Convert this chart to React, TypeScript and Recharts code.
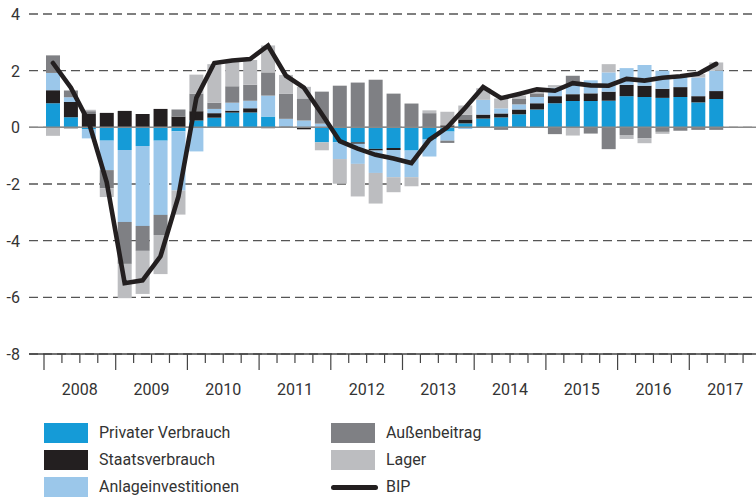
import { ComposedChart, Bar, Line, XAxis, YAxis, CartesianGrid, ReferenceLine } from "recharts";

const YEARS = ["2008", "2009", "2010", "2011", "2012", "2013", "2014", "2015", "2016", "2017"];
const QUARTERS = YEARS.flatMap((y) => [y + "Q1", y + "Q2", y + "Q3", y + "Q4"]);

// Wachstumsbeiträge in Prozentpunkten, 2008Q1 bis 2017Q2
const privaterVerbrauch = [
  0.85, 0.36, -0.06, -0.47, -0.8, -0.66, -0.47, -0.14,
  0.24, 0.34, 0.52, 0.52, 0.38, 0, 0, -0.53,
  -0.53, -0.53, -0.76, -0.73, -0.82, -0.43, -0.15, 0.14,
  0.31, 0.35, 0.46, 0.63, 0.85, 0.93, 0.93, 0.94,
  1.1, 1.07, 1.04, 1.07, 0.88, 1.0,
];
const staatsverbrauch = [
  0.46, 0.53, 0.47, 0.51, 0.58, 0.47, 0.65, 0.38,
  0.33, 0.16, 0.07, 0.15, -0.03, 0.03, -0.07, 0,
  0, -0.05, -0.06, -0.07, 0, 0, 0.07, 0.14,
  0.14, 0.14, 0.17, 0.22, 0.25, 0.24, 0.27, 0.32,
  0.4, 0.4, 0.32, 0.35, 0.22, 0.28,
];
const anlageinvestitionen = [
  0.61, 0.17, -0.33, -1.04, -2.54, -2.82, -2.62, -2.09,
  -0.85, 0.15, 0.28, 0.27, 0.74, 0.27, 0.24, 0.13,
  -0.59, -0.71, -0.79, -0.96, -0.94, -0.6, -0.32, -0.06,
  0.52, 0.18, 0.18, 0.22, 0.3, 0.36, 0.46, 0.68,
  0.59, 0.73, 0.64, 0.4, 0.66, 0.72,
];
const aussenbeitrag = [
  0.62, 0.24, 0.1, -0.64, -1.48, -0.88, -0.71, 0.25,
  0.62, 0.22, 0.58, 0.56, 0.82, 0.88, 0.78, 1.13,
  1.47, 1.58, 1.68, 1.19, 0.84, 0.5, -0.08, 0.17,
  0, -0.09, 0.21, 0.13, -0.24, 0.29, -0.22, -0.77,
  -0.27, -0.38, -0.16, -0.12, -0.09, -0.09,
];
const lager = [
  -0.3, -0.06, 0.05, -0.31, -1.21, -1.52, -1.38, -0.85,
  0.67, 1.36, 0.88, 0.88, 0.95, 0.67, 0.41, -0.28,
  -0.87, -1.15, -1.08, -0.53, -0.32, 0.1, 0.48, 0.32,
  0.41, 0.35, 0.1, 0.1, 0.09, -0.29, 0, 0.29,
  -0.14, -0.18, -0.07, 0, 0.12, 0.29,
];
const bip = [
  2.27, 1.4, 0.18, -1.94, -5.5, -5.4, -4.55, -2.44,
  1.04, 2.27, 2.36, 2.41, 2.88, 1.82, 1.4, 0.47,
  -0.49, -0.75, -0.97, -1.1, -1.26, -0.44, 0, 0.69,
  1.42, 1.03, 1.18, 1.34, 1.29, 1.56, 1.48, 1.47,
  1.71, 1.65, 1.75, 1.8, 1.89, 2.24,
];
const Y_TICKS = [-8, -6, -4, -2, 0, 2, 4];

const data = QUARTERS.map((q, i) => ({
  q,
  privat: privaterVerbrauch[i],
  staat: staatsverbrauch[i],
  anlage: anlageinvestitionen[i],
  aussen: aussenbeitrag[i],
  lager: lager[i],
  bip: bip[i],
}));

const SERIES = [
  { key: "privat", name: "Privater Verbrauch", color: "#159bd7" },
  { key: "staat", name: "Staatsverbrauch", color: "#231f20" },
  { key: "anlage", name: "Anlageinvestitionen", color: "#9bc7ea" },
  { key: "aussen", name: "Außenbeitrag", color: "#7f8084" },
  { key: "lager", name: "Lager", color: "#bcbdc0" },
];

const FONT = "Roboto, 'Noto Sans', sans-serif";
const TEXT = "#333";
const BAND = 17.925;

function QuarterTick({ x, y, payload }: any) {
  const i = payload.index;
  const left = x - BAND / 2;
  return (
    <g>
      <line x1={left} x2={left} y1={y} y2={y + (i % 4 === 0 ? 16 : 9)} stroke="#444" strokeWidth={1.2} />
      {i === QUARTERS.length - 1 && (
        <line x1={x + BAND / 2} x2={x + BAND / 2} y1={y} y2={y + 16} stroke="#444" strokeWidth={1.2} />
      )}
      {i % 4 === 1 && (
        <text x={x + BAND / 2} y={y + 41} textAnchor="middle" fill={TEXT} fontSize={16} fontFamily={FONT}>
          {QUARTERS[i].slice(0, 4)}
        </text>
      )}
    </g>
  );
}

function ValueTick({ y, payload }: any) {
  return (
    <text x={20} y={y} dy={6} textAnchor="end" fill={TEXT} fontSize={16} fontFamily={FONT}>
      {payload.value}
    </text>
  );
}

function LegendBox() {
  const rows = [
    [SERIES[0], SERIES[3]],
    [SERIES[1], SERIES[4]],
    [SERIES[2], null],
  ];
  return (
    <div style={{ position: "absolute", left: 0, top: 423, fontFamily: FONT, fontSize: 16, color: TEXT }}>
      {rows.map((row, r) => (
        <div key={r}>
          {row.map((s, c) => {
            const left = c === 0 ? 44 : 331;
            const top = r * 27;
            return (
              <div key={c} style={{ position: "absolute", left, top, width: 300, height: 20 }}>
                {s ? (
                  <div style={{ position: "absolute", left: 0, top: 0, width: 44, height: 20, background: s.color }} />
                ) : (
                  <div style={{ position: "absolute", left: 0, top: 8, width: 47, height: 5, borderRadius: 3, background: "#231f20" }} />
                )}
                <div style={{ position: "absolute", left: 55, top: 0, lineHeight: "20px", whiteSpace: "nowrap" }}>
                  {s ? s.name : "BIP"}
                </div>
              </div>
            );
          })}
        </div>
      ))}
    </div>
  );
}

export default function App() {
  return (
    <div style={{ position: "absolute", left: 0, top: 0, width: 756, height: 497, overflow: "hidden", background: "#fff" }}>
      <ComposedChart
        width={770}
        height={497}
        data={data}
        stackOffset="sign"
        margin={{ top: 14, right: 9, left: 0, bottom: 103 }}
        style={{ fontFamily: FONT }}
      >
        <CartesianGrid vertical={false} stroke="#555" strokeWidth={1.3} strokeDasharray="9 5" />
        <XAxis
          dataKey="q"
          interval={0}
          height={40}
          tickSize={0}
          tickMargin={0}
          tickLine={false}
          padding={{ left: 15, right: 0 }}
          axisLine={{ stroke: "#444", strokeWidth: 1.3 }}
          tick={<QuarterTick />}
        />
        <YAxis
          width={29}
          domain={[-8, 4]}
          ticks={Y_TICKS}
          allowDataOverflow
          tickLine={false}
          axisLine={false}
          tick={<ValueTick />}
        />
        {SERIES.map((s) => (
          <Bar key={s.key} dataKey={s.key} name={s.name} stackId="a" fill={s.color} barSize={14} isAnimationActive={false} />
        ))}
        <ReferenceLine y={0} stroke="#8a8a8a" strokeWidth={1.5} />
        <Line
          dataKey="bip"
          name="BIP"
          type="linear"
          stroke="#231f20"
          strokeWidth={4.6}
          strokeLinecap="round"
          dot={false}
          activeDot={false}
          isAnimationActive={false}
        />
      </ComposedChart>
      <LegendBox />
    </div>
  );
}
